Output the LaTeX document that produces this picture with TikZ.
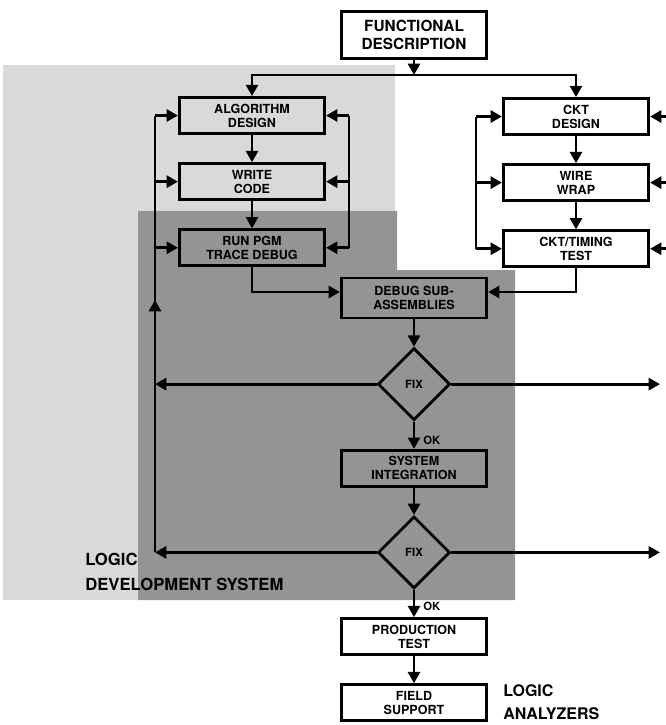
\documentclass[tikz,border=0pt]{standalone}
\usepackage{fontspec}
\setmainfont{TeX Gyre Heros}
\usetikzlibrary{arrows.meta,positioning,shapes.geometric,backgrounds,calc}
\definecolor{shadelite}{gray}{0.85}
\definecolor{shadedark}{gray}{0.58}
\tikzset{
  box/.style={draw,line width=2.1pt,align=center,inner sep=2pt,
              minimum width=109pt,minimum height=27pt,
              font=\fontsize{9.4}{10.5}\selectfont\bfseries},
  fix/.style={draw,diamond,aspect=1,line width=2.1pt,minimum width=54pt,
              minimum height=54pt,inner sep=0pt,
              font=\fontsize{8.5}{9}\selectfont\bfseries},
  lbl/.style={font=\fontsize{8.5}{10}\selectfont\bfseries,inner sep=1pt},
  tag/.style={font=\fontsize{12.5}{19}\selectfont\bfseries,align=left,inner sep=0pt},
  fl/.style={-{Triangle[length=8.5pt,width=9pt]},line width=2.1pt},
  bus/.style={line width=2.1pt},
}

\begin{document}
\begin{tikzpicture}[x=0.75pt,y=-0.75pt,node distance=20.5pt]
\useasboundingbox (0,0) rectangle (666,725);
% shaded areas
\fill[shadelite] (3,65) rectangle (395,600);
\fill[shadedark] (138,211) -- (397,211) -- (397,270) -- (515,270)
  -- (515,600) -- (138,600) -- cycle;

\node[box, minimum height=35pt, font=\fontsize{11.5}{13.5}\selectfont\bfseries]
  (fd) at (414,35) {FUNCTIONAL\\DESCRIPTION};
% software column
\node[box] (alg) at (252,115.5) {ALGORITHM\\DESIGN};
\node[box, below=of alg] (code) {WRITE\\CODE};
\node[box, below=of code] (run) {RUN PGM\\TRACE DEBUG};
% hardware column
\node[box] (ckt) at (576,116.5) {CKT\\DESIGN};
\node[box, below=of ckt] (wire) {WIRE\\WRAP};
\node[box, below=of wire] (tmg) {CKT/TIMING\\TEST};
% common path
\node[box, minimum height=30pt] (dbg) at (414,298) {DEBUG SUB-\\ASSEMBLIES};
\node[fix, below=of dbg] (fix1) {FIX};
\node[box, below=of fix1] (sys) {SYSTEM\\INTEGRATION};
\node[fix, below=of sys] (fix2) {FIX};
\node[box, below=of fix2] (prod) {PRODUCTION\\TEST};
\node[box, below=of prod] (fld) {FIELD\\SUPPORT};

\node[tag, anchor=west] (lds) at (85,572) {LOGIC\\DEVELOPMENT SYSTEM};
\node[tag, anchor=west, font=\fontsize{12}{17.5}\selectfont\bfseries]
  (la) at (503,702) {LOGIC\\ANALYZERS};

\coordinate (split) at (414,75);
\coordinate (lbus) at (155,0);
\coordinate (rbus) at (349,0);
\coordinate (hbus) at (476,0);
\coordinate (edge) at (666,0);
\coordinate (tip) at (660,0);
\coordinate (mid) at (155,300);

\draw[fl] (fd) -- (split);
\draw[fl] (split) -| (alg);
\draw[fl] (split) -| (ckt);
\draw[fl] (alg) -- (code);
\draw[fl] (code) -- (run);
\draw[fl] (ckt) -- (wire);
\draw[fl] (wire) -- (tmg);

% feedback buses
\draw[bus] (alg.west -| lbus) -- (fix2.west -| lbus);
\draw[fl] (fix2.west -| lbus) -- (mid);
\draw[bus] (alg.east -| rbus) -- (run.east -| rbus);
\draw[bus] (ckt.west -| hbus) -- (tmg.west -| hbus);
\foreach \b in {alg,code,run}{
  \draw[fl] (\b.west -| lbus) -- (\b.west);
  \draw[fl] (\b.east -| rbus) -- (\b.east);
}
\foreach \b in {ckt,wire,tmg}{
  \draw[fl] (\b.west -| hbus) -- (\b.west);
  \draw[fl] (\b.east -| edge) -- (\b.east);
}

\draw[fl] (run.south) |- ($(dbg.west)+(0,-6)$);
\draw[fl] (tmg.south) |- ($(dbg.east)+(0,-6)$);
\draw[fl] (dbg) -- (fix1);
\draw[fl] (fix1) -- node[lbl, right=5pt, pos=0.7] {OK} (sys);
\draw[fl] (sys) -- (fix2);
\draw[fl] (fix2) -- node[lbl, right=5pt, pos=0.6] {OK} (prod);
\draw[fl] (prod) -- (fld);

\draw[fl] (fix1.west) -- (fix1.west -| lbus);
\draw[fl] (fix1.east) -- (fix1.east -| tip);
\draw[fl] (fix2.west) -- (fix2.west -| lbus);
\draw[fl] (fix2.east) -- (fix2.east -| tip);
\end{tikzpicture}
\end{document}
